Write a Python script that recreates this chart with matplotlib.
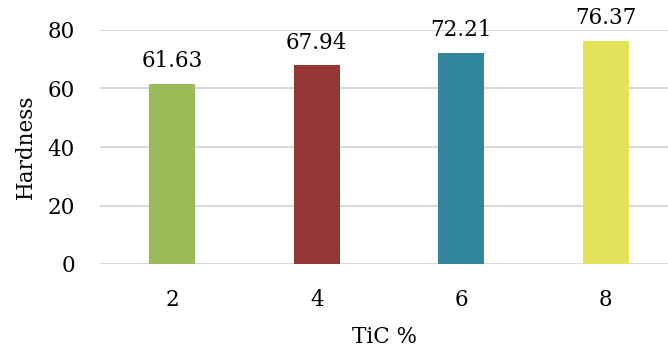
import matplotlib
matplotlib.use("Agg")
import matplotlib.pyplot as plt

categories = ["2", "4", "6", "8"]
hardness = [61.63, 67.94, 72.21, 76.37]
bar_colors = ["#9BBB59", "#953735", "#31859C", "#E2E358"]
y_ticks = [0, 20, 40, 60, 80]

plt.rcParams["font.family"] = ["DejaVu Serif"]
fs = 15.5

fig = plt.figure(figsize=(6.68, 3.52), dpi=100)
W, H = 668, 352
ax = fig.add_axes([100 / W, (H - 264) / H, (668 - 100) / W, (264 - 30) / H])

x = list(range(len(categories)))
bars = ax.bar(x, hardness, width=0.32, color=bar_colors, zorder=3)

for xi, v in zip(x, hardness):
    ax.annotate(f"{v:.2f}", (xi, v), xytext=(0, 12), textcoords="offset points",
                ha="center", va="baseline", fontsize=fs, color="#000000",
                annotation_clip=False)

ax.set_xlim(-0.5, 3.5 - 10 / 144.7)
ax.set_ylim(0, 80)
ax.set_yticks(y_ticks)
ax.set_xticks(x)
ax.set_xticklabels(categories)
ax.grid(axis="y", color="#D9D9D9", linewidth=1.5, zorder=0)
ax.set_axisbelow(True)
for s in ax.spines.values():
    s.set_visible(False)
ax.tick_params(axis="both", length=0, labelsize=fs, colors="#000000")
ax.tick_params(axis="y", pad=18)
ax.tick_params(axis="x", pad=18)
ax.set_ylabel("Hardness", fontsize=fs, labelpad=8)
ax.set_xlabel("TiC %", fontsize=fs, labelpad=11)

fig.savefig("out.png", dpi=100)
